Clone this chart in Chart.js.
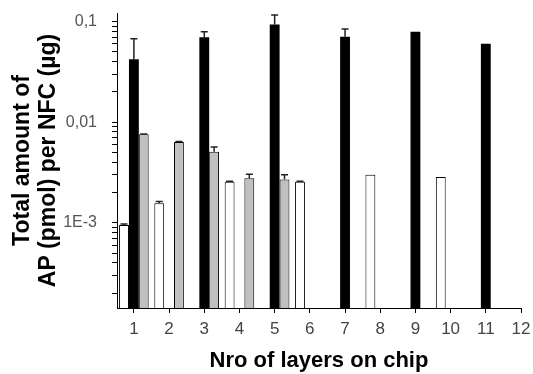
<!DOCTYPE html>
<html lang="en">
<head>
<meta charset="UTF-8">
<title>Total amount of AP per NFC</title>
<script src="https://cdn.jsdelivr.net/npm/chart.js"></script>
<style>
    html, body { margin: 0; padding: 0; background: #fff; }
    #wrap { width: 533px; height: 374px; }
</style>
</head>
<body>
<div id="wrap"><canvas id="grafico" width="533" height="374"></canvas></div>
<script>
    // number of layers on chip (x)
    const layers = [1, 2, 3, 4, 5, 6, 7, 8, 9, 10, 11, 12];

    // left (white) bars
    const whiteVals = [0.00095, 0.00156, null, 0.00256, null, 0.00256, null, 0.00301, null, 0.00285, null, null];
    const whiteErr  = [0.00002, 0.00007, null, 0.00003, null, 0.00003, null, 0, null, 0, null, null];

    // middle (black) bars
    const blackVals = [0.0422, null, 0.0699, null, 0.094, null, 0.071, null, 0.0795, null, 0.0604, null];
    const blackErr  = [0.0255, null, 0.0096, null, 0.0226, null, 0.0136, null, 0, null, 0, null];

    // right (grey) bars
    const greyVals = [0.0076, 0.00637, 0.0051, 0.00277, 0.0027, null, null, null, null, null, null, null];
    const greyErr  = [0.00005, 0.00005, 0.00058, 0.00026, 0.0003, null, null, null, null, null, null, null];

    const yTickValues = [0.001, 0.01, 0.1];
    const yTickLabels = ['1E-3', '0,01', '0,1'];

    const yMin = 1.42e-4, yMax = 0.122;

    const errorBars = {
        id: 'errorBars',
        afterDatasetsDraw(chart) {
            const ctx = chart.ctx;
            const yScale = chart.scales.y;
            chart.data.datasets.forEach((ds, di) => {
                const meta = chart.getDatasetMeta(di);
                meta.data.forEach((bar, i) => {
                    const v = ds.data[i], e = ds.errUp[i];
                    if (v == null || !e) return;
                    const yTop = yScale.getPixelForValue(v + e);
                    const half = 3.5;
                    ctx.save();
                    ctx.strokeStyle = '#222';
                    ctx.lineWidth = 1.5;
                    ctx.beginPath();
                    ctx.moveTo(bar.x, bar.y);
                    ctx.lineTo(bar.x, yTop);
                    ctx.moveTo(bar.x - half, yTop);
                    ctx.lineTo(bar.x + half, yTop);
                    ctx.stroke();
                    ctx.restore();
                });
            });
        }
    };

    const fonte = "'Liberation Sans', Arial, sans-serif";

    new Chart(document.getElementById('grafico'), {
        type: 'bar',
        data: {
            labels: layers,
            datasets: [
                { data: whiteVals, errUp: whiteErr, backgroundColor: '#ffffff', borderColor: '#000', borderWidth: 1 },
                { data: blackVals, errUp: blackErr, backgroundColor: '#000000', borderColor: '#000', borderWidth: 0 },
                { data: greyVals, errUp: greyErr, backgroundColor: '#c0c0c0', borderColor: '#000', borderWidth: 1 }
            ]
        },
        options: {
            responsive: false,
            animation: false,
            categoryPercentage: 0.84,
            barPercentage: 1.0,
            layout: { padding: { left: 0, right: 12, top: 13, bottom: 0 } },
            plugins: { legend: { display: false }, tooltip: { enabled: false } },
            scales: {
                x: {
                    type: 'linear',
                    min: 0.52,
                    max: 12,
                    offset: false,
                    grid: { offset: false, drawOnChartArea: false, tickLength: 5, color: '#000' },
                    border: { color: '#000', width: 1 },
                    afterBuildTicks: s => { s.ticks = layers.map(v => ({ value: v })); },
                    afterFit: s => { s.height = 66; s.paddingLeft = 0; s.paddingRight = 0; },
                    ticks: { font: { family: fonte, size: 17 }, color: '#444', padding: 6, maxRotation: 0, autoSkip: false },
                    title: { display: true, text: 'Nro of layers on chip', font: { family: fonte, size: 22, weight: 'bold', lineHeight: 1.2 }, color: '#000', padding: { top: 0, bottom: 0 } }
                },
                y: {
                    type: 'logarithmic',
                    min: yMin,
                    max: yMax,
                    grid: { drawOnChartArea: false, tickLength: 5, color: '#000' },
                    border: { color: '#000', width: 1 },
                    afterBuildTicks: s => {
                        const t = [];
                        yTickValues.forEach(d => {
                            t.push({ value: d });
                            for (let k = 2; k <= 9; k++) {
                                const v = k * d / 10;
                                if (v >= yMin && v <= yMax) t.push({ value: v });
                            }
                        });
                        t.sort((a, b) => a.value - b.value);
                        s.ticks = t;
                    },
                    afterFit: s => { s.width = 117; s.paddingTop = 0; s.paddingBottom = 0; },
                    ticks: {
                        font: { family: fonte, size: 16 },
                        color: '#555',
                        padding: 15,
                        autoSkip: false,
                        callback: v => {
                            const i = yTickValues.indexOf(v);
                            return i >= 0 ? yTickLabels[i] : '';
                        }
                    },
                    title: {
                        display: true,
                        text: ['Total amount of', 'AP (pmol) per NFC (µg)'],
                        font: { family: fonte, size: 23, weight: 'bold', lineHeight: 1.1 },
                        color: '#000',
                        padding: { top: 10.5, bottom: 0 }
                    }
                }
            }
        },
        plugins: [errorBars]
    });
</script>
</body>
</html>
